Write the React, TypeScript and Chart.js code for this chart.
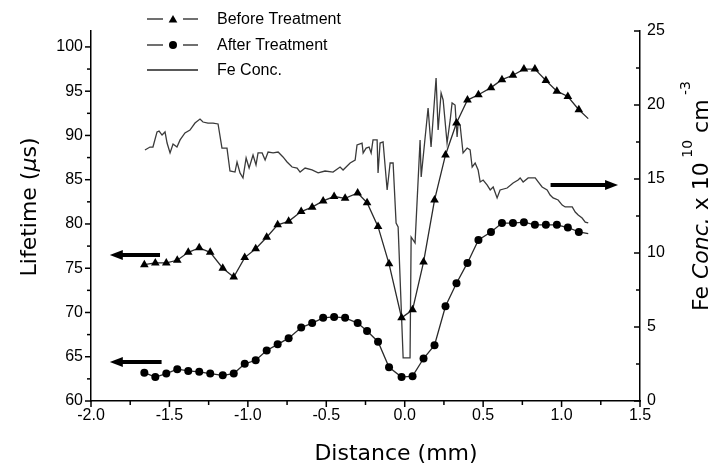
import React, { useEffect, useRef } from "react";
import { Chart, registerables } from "chart.js";
Chart.register(...registerables);

// ---------- data ----------
const markerX = [-1.66, -1.59, -1.52, -1.45, -1.38, -1.31, -1.24, -1.16, -1.09, -1.02, -0.95, -0.88, -0.81, -0.74, -0.66, -0.59, -0.52, -0.45, -0.38, -0.30, -0.24, -0.17, -0.10, -0.02, 0.05, 0.12, 0.19, 0.26, 0.33, 0.40, 0.47, 0.55, 0.62, 0.69, 0.76, 0.83, 0.90, 0.97, 1.04, 1.11];
const beforeY = [75.4, 75.6, 75.6, 75.9, 76.8, 77.3, 76.8, 75.0, 74.0, 76.2, 77.2, 78.5, 79.9, 80.3, 81.4, 81.9, 82.6, 83.1, 82.9, 83.5, 82.4, 79.7, 75.5, 69.4, 70.3, 75.7, 82.7, 87.8, 91.4, 94.0, 94.6, 95.4, 96.3, 96.8, 97.5, 97.5, 96.2, 95.0, 94.4, 92.9];
const afterY = [63.2, 62.7, 63.1, 63.6, 63.4, 63.3, 63.1, 62.9, 63.1, 64.2, 64.6, 65.7, 66.4, 67.1, 68.3, 68.8, 69.4, 69.5, 69.4, 68.8, 67.9, 66.7, 63.8, 62.7, 62.8, 64.8, 66.3, 70.7, 73.3, 75.6, 78.2, 79.1, 80.1, 80.1, 80.2, 79.9, 79.9, 79.9, 79.6, 79.1];
const tailX = 1.17;
const beforeTailY = 91.9;
const afterTailY = 78.9;

const feX = [-1.656, -1.624, -1.605, -1.579, -1.566, -1.547, -1.528, -1.515, -1.496, -1.477, -1.452, -1.432, -1.401, -1.369, -1.337, -1.305, -1.286, -1.254, -1.222, -1.190, -1.165, -1.133, -1.114, -1.082, -1.069, -1.050, -1.031, -1.011, -0.992, -0.967, -0.948, -0.935, -0.909, -0.890, -0.871, -0.839, -0.807, -0.776, -0.750, -0.718, -0.686, -0.667, -0.635, -0.591, -0.552, -0.508, -0.457, -0.412, -0.393, -0.348, -0.316, -0.304, -0.272, -0.265, -0.246, -0.227, -0.214, -0.202, -0.176, -0.170, -0.157, -0.138, -0.112, -0.093, -0.074, -0.055, -0.042, -0.010, 0.034, 0.041, 0.066, 0.098, 0.105, 0.149, 0.168, 0.200, 0.213, 0.232, 0.245, 0.270, 0.290, 0.302, 0.321, 0.334, 0.341, 0.353, 0.372, 0.398, 0.417, 0.430, 0.449, 0.468, 0.481, 0.500, 0.526, 0.545, 0.564, 0.589, 0.608, 0.653, 0.691, 0.723, 0.736, 0.755, 0.787, 0.832, 0.851, 0.876, 0.908, 0.927, 0.946, 0.978, 1.004, 1.023, 1.068, 1.087, 1.106, 1.131, 1.151, 1.170];
const feY = [16.96, 17.16, 17.16, 18.18, 18.24, 17.97, 18.18, 17.43, 16.76, 17.36, 17.16, 17.64, 18.11, 18.31, 18.78, 19.05, 18.85, 18.78, 18.78, 18.72, 17.09, 17.09, 15.54, 15.47, 16.15, 15.41, 15.07, 16.42, 15.74, 16.62, 15.95, 16.76, 16.76, 16.28, 16.82, 16.76, 16.82, 16.49, 16.15, 15.81, 15.74, 15.47, 15.74, 15.61, 15.41, 15.54, 15.47, 15.81, 15.61, 16.08, 16.28, 17.30, 17.43, 16.76, 17.09, 17.16, 16.76, 17.64, 17.64, 15.41, 17.43, 17.50, 14.26, 16.08, 16.08, 12.03, 11.76, 2.91, 2.91, 11.08, 10.68, 17.64, 15.14, 19.80, 17.16, 21.82, 18.31, 20.81, 20.34, 17.43, 18.99, 20.14, 20.00, 17.84, 18.85, 18.65, 16.76, 17.09, 16.96, 15.81, 16.08, 15.61, 14.80, 14.93, 14.59, 14.26, 14.46, 13.72, 14.26, 14.39, 14.73, 14.93, 15.07, 14.80, 15.07, 15.07, 14.80, 14.46, 14.26, 13.92, 13.72, 13.58, 13.24, 13.11, 13.11, 12.77, 12.57, 12.36, 12.09, 12.03];

const xTicks = [-2.0, -1.5, -1.0, -0.5, 0.0, 0.5, 1.0, 1.5];
const xMinorTicks = [-1.75, -1.25, -0.75, -0.25, 0.25, 0.75, 1.25];
const leftTicks = [60, 65, 70, 75, 80, 85, 90, 95, 100];
const leftMinorTicks = [62.5, 67.5, 72.5, 77.5, 82.5, 87.5, 92.5, 97.5];
const rightTicks = [0, 5, 10, 15, 20, 25];
const rightMinorTicks = [2.5, 7.5, 12.5, 17.5, 22.5];

// arrows (data coords): from -> to (head at "to")
const arrowFromX = [-1.56, -1.55, 0.93];
const arrowToX = [-1.88, -1.88, 1.36];
const arrowY = [76.5, 64.4, 14.6];
const arrowAxis = ["y", "y", "y2"];

const legendLabels = ["Before Treatment", "After Treatment", "Fe Conc."];

const TICK_FONT = "'Liberation Sans', Arial, sans-serif";
const TITLE_FONT = "'DejaVu Sans', sans-serif";

function drawTriangle(ctx: CanvasRenderingContext2D, x: number, y: number, r: number) {
  ctx.beginPath();
  for (let i = 0; i < 3; i++) {
    const a = (i * 2 * Math.PI) / 3;
    const px = x + Math.sin(a) * r;
    const py = y - Math.cos(a) * r;
    if (i === 0) ctx.moveTo(px, py);
    else ctx.lineTo(px, py);
  }
  ctx.closePath();
  ctx.fill();
}

const overlay = {
  id: "overlay",
  afterDraw(chart: any) {
    const ctx: CanvasRenderingContext2D = chart.ctx;
    const { x, y, y2 } = chart.scales;
    const area = chart.chartArea;
    ctx.save();
    ctx.strokeStyle = "#000";
    ctx.lineWidth = 1.5;
    const seg = (x1: number, y1: number, x2: number, y2_: number) => {
      ctx.beginPath();
      ctx.moveTo(x1, y1);
      ctx.lineTo(x2, y2_);
      ctx.stroke();
    };
    // bottom ticks (outward)
    xTicks.forEach((v) => { const p = x.getPixelForValue(v); seg(p, area.bottom, p, area.bottom + 6); });
    xMinorTicks.forEach((v) => { const p = x.getPixelForValue(v); seg(p, area.bottom, p, area.bottom + 4); });
    // left ticks (outward)
    leftTicks.forEach((v) => { const p = y.getPixelForValue(v); seg(area.left, p, area.left - 6, p); });
    leftMinorTicks.forEach((v) => { const p = y.getPixelForValue(v); seg(area.left, p, area.left - 4, p); });
    // right ticks (inward)
    rightTicks.forEach((v) => { const p = y2.getPixelForValue(v); seg(area.right, p, area.right - 6, p); });
    rightMinorTicks.forEach((v) => { const p = y2.getPixelForValue(v); seg(area.right, p, area.right - 4, p); });

    // arrows
    ctx.fillStyle = "#000";
    for (let i = 0; i < arrowY.length; i++) {
      const sc = arrowAxis[i] === "y" ? y : y2;
      const py = sc.getPixelForValue(arrowY[i]);
      const x1 = x.getPixelForValue(arrowFromX[i]);
      const x2 = x.getPixelForValue(arrowToX[i]);
      const dir = Math.sign(x2 - x1);
      const headLen = 13;
      ctx.lineWidth = 4;
      seg(x1, py, x2 - dir * headLen * 0.8, py);
      ctx.beginPath();
      ctx.moveTo(x2, py);
      ctx.lineTo(x2 - dir * headLen, py - 5);
      ctx.lineTo(x2 - dir * headLen, py + 5);
      ctx.closePath();
      ctx.fill();
    }

    // legend
    const legY = [19, 45, 70];
    ctx.lineWidth = 1.3;
    ctx.strokeStyle = "#222";
    ctx.fillStyle = "#000";
    ctx.font = `16px ${TICK_FONT}`;
    ctx.textBaseline = "middle";
    ctx.textAlign = "left";
    legendLabels.forEach((lab, i) => {
      const ly = legY[i];
      if (i < 2) {
        seg(147, ly, 163, ly);
        seg(183, ly, 198, ly);
        if (i === 0) drawTriangle(ctx, 173, ly + 1, 5);
        else { ctx.beginPath(); ctx.arc(173, ly, 4, 0, Math.PI * 2); ctx.fill(); }
      } else {
        seg(147, ly, 198, ly);
      }
      ctx.fillText(lab, 217, ly + 1);
    });

    // axis titles
    ctx.fillStyle = "#000";
    ctx.textBaseline = "middle";
    ctx.textAlign = "center";
    ctx.font = `22px ${TITLE_FONT}`;
    ctx.fillText("Distance (mm)", 396, 454);

    // left title
    ctx.save();
    ctx.translate(30, 207);
    ctx.rotate(-Math.PI / 2);
    const partsL: [string, string][] = [["Lifetime (", "normal"], ["\u03bc", "italic"], ["s)", "normal"]];
    let totalL = 0;
    partsL.forEach(([t, st]) => { ctx.font = `${st} 22px ${TITLE_FONT}`; totalL += ctx.measureText(t).width; });
    let cx = -totalL / 2;
    ctx.textAlign = "left";
    partsL.forEach(([t, st]) => { ctx.font = `${st} 22px ${TITLE_FONT}`; ctx.fillText(t, cx, 0); cx += ctx.measureText(t).width; });
    ctx.restore();

    // right title with superscripts
    ctx.save();
    ctx.translate(702, 196);
    ctx.rotate(-Math.PI / 2);
    const partsR: [string, number, string, number][] = [
      ["Fe ", 22, "normal", 0],
      ["Conc.", 22, "italic", 0],
      [" x 10", 22, "normal", 0],
      [" 10", 14, "normal", -14],
      [" cm", 22, "normal", 0],
      [" -3", 14, "normal", -16],
    ];
    let totalR = 0;
    partsR.forEach(([t, sz, st]) => { ctx.font = `${st} ${sz}px ${TITLE_FONT}`; totalR += ctx.measureText(t).width; });
    let rx = -totalR / 2;
    ctx.textAlign = "left";
    partsR.forEach(([t, sz, st, dy]) => { ctx.font = `${st} ${sz}px ${TITLE_FONT}`; ctx.fillText(t, rx, dy); rx += ctx.measureText(t).width; });
    ctx.restore();

    ctx.restore();
  },
};

export default function App() {
  const ref = useRef<HTMLCanvasElement | null>(null);
  useEffect(() => {
    if (!ref.current) return;
    const beforeData = markerX.map((xv, i) => ({ x: xv, y: beforeY[i] })).concat([{ x: tailX, y: beforeTailY }]);
    const afterData = markerX.map((xv, i) => ({ x: xv, y: afterY[i] })).concat([{ x: tailX, y: afterTailY }]);
    const feData = feX.map((xv, i) => ({ x: xv, y: feY[i] }));
    const n = markerX.length;
    const chart = new Chart(ref.current, {
      type: "line",
      data: {
        datasets: [
          {
            label: "Before Treatment",
            data: beforeData,
            yAxisID: "y",
            borderColor: "#2a2a2a",
            borderWidth: 1.3,
            pointStyle: "triangle",
            pointRadius: (c: any) => (c.dataIndex < n ? 5 : 0),
            pointBackgroundColor: "#000",
            pointBorderColor: "#000",
            pointBorderWidth: 0,
            tension: 0,
          },
          {
            label: "After Treatment",
            data: afterData,
            yAxisID: "y",
            borderColor: "#2a2a2a",
            borderWidth: 1.3,
            pointStyle: "circle",
            pointRadius: (c: any) => (c.dataIndex < n ? 4 : 0),
            pointBackgroundColor: "#000",
            pointBorderColor: "#000",
            pointBorderWidth: 0,
            tension: 0,
          },
          {
            label: "Fe Conc.",
            data: feData,
            yAxisID: "y2",
            borderColor: "#3a3a3a",
            borderWidth: 1.3,
            pointRadius: 0,
            tension: 0,
          },
        ],
      },
      options: {
        responsive: false,
        animation: false,
        devicePixelRatio: 1,
        layout: { padding: { top: 31, left: 0, right: 0, bottom: 0 } },
        plugins: { legend: { display: false }, tooltip: { enabled: false } },
        scales: {
          x: {
            type: "linear",
            position: "bottom",
            min: -2,
            max: 1.5,
            afterBuildTicks: (s: any) => { s.ticks = xTicks.map((v) => ({ value: v })); },
            afterFit: (s: any) => { s.height = 70; s.paddingLeft = 0; s.paddingRight = 0; },
            grid: { display: false, drawTicks: false },
            border: { display: true, color: "#000", width: 1.5 },
            ticks: {
              color: "#000",
              padding: 5,
              maxRotation: 0,
              autoSkip: false,
              font: { family: TICK_FONT, size: 16 },
              callback: (v: any) => Number(v).toFixed(1),
            },
          },
          y: {
            type: "linear",
            position: "left",
            min: 60,
            max: 101.8,
            afterBuildTicks: (s: any) => { s.ticks = leftTicks.map((v) => ({ value: v })); },
            afterFit: (s: any) => { s.width = 91; s.paddingTop = 0; s.paddingBottom = 0; },
            grid: { display: false, drawTicks: false },
            border: { display: true, color: "#000", width: 1.5 },
            ticks: {
              color: "#000",
              padding: 8,
              autoSkip: false,
              font: { family: TICK_FONT, size: 16 },
              callback: (v: any) => String(v),
            },
          },
          y2: {
            type: "linear",
            position: "right",
            min: 0,
            max: 25,
            afterBuildTicks: (s: any) => { s.ticks = rightTicks.map((v) => ({ value: v })); },
            afterFit: (s: any) => { s.width = 77; s.paddingTop = 0; s.paddingBottom = 0; },
            grid: { display: false, drawTicks: false },
            border: { display: true, color: "#000", width: 1.5 },
            ticks: {
              color: "#000",
              padding: 7,
              autoSkip: false,
              font: { family: TICK_FONT, size: 16 },
              callback: (v: any) => String(v),
            },
          },
        },
      },
      plugins: [overlay],
    } as any);
    return () => chart.destroy();
  }, []);
  return (
    <div style={{ position: "fixed", left: 0, top: 0, width: 717, height: 471, background: "#fff" }}>
      <canvas ref={ref} width={717} height={471} style={{ display: "block" }} />
    </div>
  );
}
